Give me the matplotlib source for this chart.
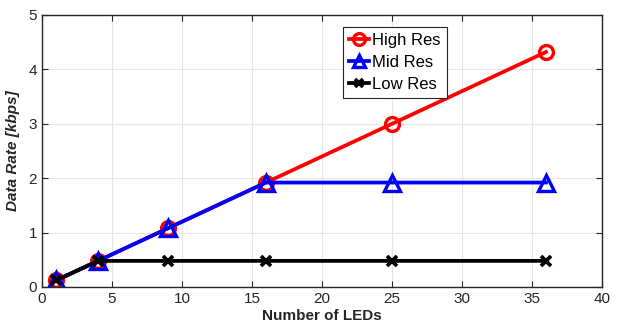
import matplotlib
matplotlib.use("Agg")
import matplotlib.pyplot as plt

plt.rcParams['font.family'] = ['Liberation Sans', 'DejaVu Sans']

leds = [1, 4, 9, 16, 25, 36]
high_res = [0.12, 0.48, 1.08, 1.92, 3.00, 4.32]
mid_res = [0.12, 0.48, 1.08, 1.92, 1.92, 1.92]
low_res = [0.12, 0.48, 0.48, 0.48, 0.48, 0.48]

fig = plt.figure(figsize=(6.21, 3.27), dpi=100)
ax = fig.add_axes([42/621, 1 - 287/327, 560/621, 272/327])

ax.plot(leds, high_res, color="red", lw=2.7, marker="o", ms=10, mfc="none", mew=2.4, label="High Res")
ax.plot(leds, mid_res, color="blue", lw=2.7, marker="^", ms=11, mfc="none", mew=2.4, label="Mid Res")
ax.plot(leds, low_res, color="black", lw=2.7, marker="x", ms=7.5, mew=2.7, label="Low Res")

ax.set_xlim(0, 40)
ax.set_ylim(0, 5)
ax.set_xticks(range(0, 41, 5))
ax.set_yticks(range(0, 6))
ax.grid(True, color="#e6e6e6", lw=0.8)
ax.set_axisbelow(True)
ax.tick_params(direction="in", top=True, right=True, labelsize=11, colors="#262626", length=4)
for s in ax.spines.values():
    s.set_color("#262626")
    s.set_linewidth(1.0)

ax.set_xlabel("Number of LEDs", fontsize=11, fontweight="bold", color="#262626", labelpad=2)
ax.set_ylabel("Data Rate [kbps]", fontsize=11, fontweight="bold", style="italic", color="#262626", labelpad=6)

leg = ax.legend(loc="upper left", bbox_to_anchor=(301/560, 1 - 12/272), fontsize=12, handlelength=1.2,
                handletextpad=0.2, borderpad=0.35, labelspacing=0.42, fancybox=False, framealpha=1,
                borderaxespad=0, markerscale=0.85)
leg.get_frame().set_edgecolor("#262626")
leg.get_frame().set_linewidth(0.8)

fig.savefig("out.png", dpi=100)
